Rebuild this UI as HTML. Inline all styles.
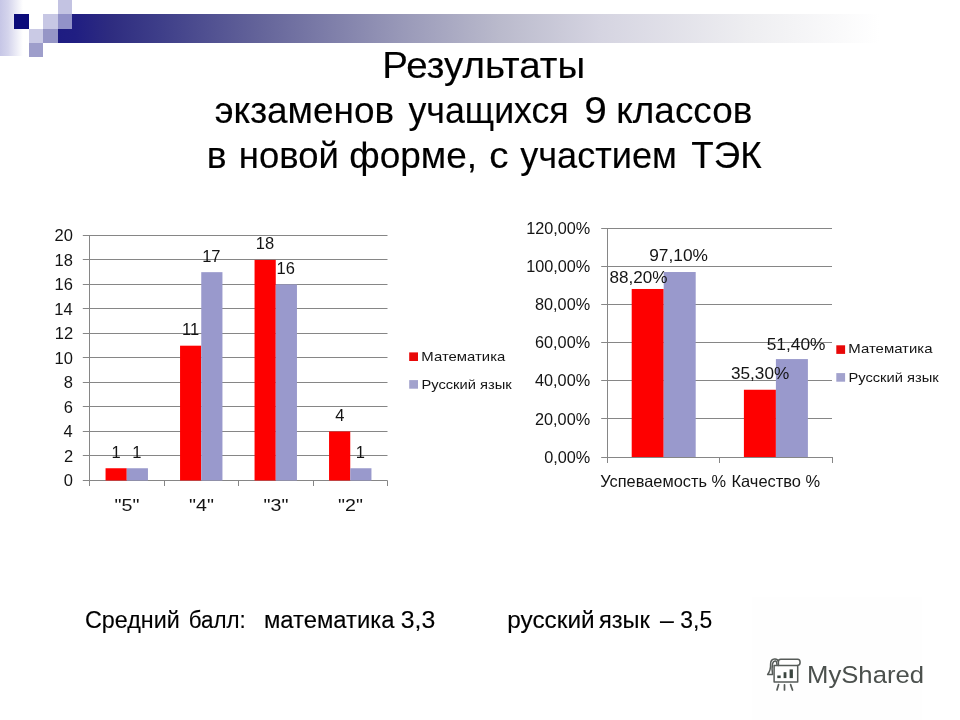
<!DOCTYPE html>
<html lang="ru">
<head>
<meta charset="utf-8">
<title>Результаты экзаменов учащихся 9 классов</title>
<style>
html,body{margin:0;padding:0;background:#fff;}
body{width:960px;height:720px;overflow:hidden;position:relative;font-family:"Liberation Sans",sans-serif;}
svg{position:absolute;left:0;top:0;display:block;}
text{font-family:"Liberation Sans",sans-serif;}
.t{fill:#000;font-size:37.33px;stroke:#000;stroke-width:0.15px;}
.c{fill:#141414;font-size:16.5px;}
.l{fill:#141414;font-size:13.4px;}
.g{stroke:#868686;stroke-width:1;fill:none;}
.b{fill:#000;font-size:23.5px;stroke:#000;stroke-width:0.12px;}
</style>
</head>
<body>
<svg width="960" height="720" viewBox="0 0 960 720">
<defs>
<linearGradient id="gb" x1="0" y1="0" x2="1" y2="0">
<stop offset="0" stop-color="#1e1c82"/>
<stop offset="0.019" stop-color="#201e82"/>
<stop offset="0.058" stop-color="#2e2c80"/>
<stop offset="0.113" stop-color="#3e3e89"/>
<stop offset="0.224" stop-color="#64649a"/>
<stop offset="0.379" stop-color="#9898b8"/>
<stop offset="0.49" stop-color="#babacc"/>
<stop offset="0.60" stop-color="#d5d4e1"/>
<stop offset="0.767" stop-color="#eeeef1"/>
<stop offset="0.911" stop-color="#ffffff"/>
</linearGradient>
<linearGradient id="gl" x1="0" y1="0" x2="1" y2="0">
<stop offset="0" stop-color="#c6c6e6"/>
<stop offset="0.35" stop-color="#d4d4ec"/>
<stop offset="1" stop-color="#ffffff"/>
</linearGradient>
</defs>
<rect width="960" height="720" fill="#ffffff"/>

<g id="deco">
<rect x="0" y="0" width="23" height="56" fill="url(#gl)"/>
<rect x="58" y="14" width="902" height="29" fill="url(#gb)"/>
<rect x="14" y="14" width="15" height="15" fill="#0b0b7a"/>
<rect x="43" y="14" width="15" height="15" fill="#c7c7e4"/>
<rect x="58" y="0" width="14" height="14" fill="#c3c3e2"/>
<rect x="58" y="14" width="14" height="15" fill="#9292c8"/>
<rect x="29" y="29" width="14" height="14" fill="#cacae5"/>
<rect x="43" y="29" width="15" height="14" fill="#9595c6"/>
<rect x="29" y="43" width="14" height="14" fill="#9e9ecb"/>
</g>
<text class="t" x="382.31" y="77.5" textLength="202.77" lengthAdjust="spacingAndGlyphs">Результаты</text>
<text class="t" x="214.76" y="122.5" textLength="179.28" lengthAdjust="spacingAndGlyphs">экзаменов</text>
<text class="t" x="408.51" y="122.5" textLength="160.19" lengthAdjust="spacingAndGlyphs">учащихся</text>
<text class="t" x="584.35" y="122.5" textLength="22.57" lengthAdjust="spacingAndGlyphs">9</text>
<text class="t" x="616.28" y="122.5" textLength="136.09" lengthAdjust="spacingAndGlyphs">классов</text>
<text class="t" x="206.75" y="167.5" textLength="19.84" lengthAdjust="spacingAndGlyphs">в</text>
<text class="t" x="238.81" y="167.5" textLength="100.04" lengthAdjust="spacingAndGlyphs">новой</text>
<text class="t" x="349.27" y="167.5" textLength="127.73" lengthAdjust="spacingAndGlyphs">форме,</text>
<text class="t" x="489.20" y="167.5" textLength="19.25" lengthAdjust="spacingAndGlyphs">с</text>
<text class="t" x="520.26" y="167.5" textLength="156.58" lengthAdjust="spacingAndGlyphs">участием</text>
<text class="t" x="691.26" y="167.5" textLength="70.37" lengthAdjust="spacingAndGlyphs">ТЭК</text>
<g id="chart1">
<line class="g" x1="82.8" y1="480.5" x2="387.5" y2="480.5"/>
<line class="g" x1="82.8" y1="455.5" x2="387.5" y2="455.5"/>
<line class="g" x1="82.8" y1="431.5" x2="387.5" y2="431.5"/>
<line class="g" x1="82.8" y1="406.5" x2="387.5" y2="406.5"/>
<line class="g" x1="82.8" y1="382.5" x2="387.5" y2="382.5"/>
<line class="g" x1="82.8" y1="357.5" x2="387.5" y2="357.5"/>
<line class="g" x1="82.8" y1="333.5" x2="387.5" y2="333.5"/>
<line class="g" x1="82.8" y1="308.5" x2="387.5" y2="308.5"/>
<line class="g" x1="82.8" y1="284.5" x2="387.5" y2="284.5"/>
<line class="g" x1="82.8" y1="259.5" x2="387.5" y2="259.5"/>
<line class="g" x1="82.8" y1="235.5" x2="387.5" y2="235.5"/>
<line class="g" x1="89.5" y1="235.40" x2="89.5" y2="486.00"/>
<line class="g" x1="164.5" y1="480.50" x2="164.5" y2="486.00"/>
<line class="g" x1="238.5" y1="480.50" x2="238.5" y2="486.00"/>
<line class="g" x1="313.5" y1="480.50" x2="313.5" y2="486.00"/>
<line class="g" x1="387.5" y1="480.50" x2="387.5" y2="486.00"/>
<rect x="105.55" y="468.25" width="21.20" height="12.26" fill="#fe0000"/>
<rect x="126.75" y="468.25" width="21.20" height="12.26" fill="#9999cc"/>
<rect x="180.05" y="345.69" width="21.20" height="134.81" fill="#fe0000"/>
<rect x="201.25" y="272.16" width="21.20" height="208.34" fill="#9999cc"/>
<rect x="254.55" y="259.91" width="21.20" height="220.59" fill="#fe0000"/>
<rect x="275.75" y="284.42" width="21.20" height="196.08" fill="#9999cc"/>
<rect x="329.05" y="431.48" width="21.20" height="49.02" fill="#fe0000"/>
<rect x="350.25" y="468.25" width="21.20" height="12.26" fill="#9999cc"/>
<text class="c" x="63.80" y="486.3" textLength="9.19" lengthAdjust="spacingAndGlyphs">0</text>
<text class="c" x="64.05" y="461.8" textLength="9.19" lengthAdjust="spacingAndGlyphs">2</text>
<text class="c" x="63.55" y="437.3" textLength="9.19" lengthAdjust="spacingAndGlyphs">4</text>
<text class="c" x="63.80" y="412.8" textLength="9.19" lengthAdjust="spacingAndGlyphs">6</text>
<text class="c" x="63.80" y="388.3" textLength="9.19" lengthAdjust="spacingAndGlyphs">8</text>
<text class="c" x="54.55" y="363.8" textLength="18.36" lengthAdjust="spacingAndGlyphs">10</text>
<text class="c" x="54.80" y="339.2" textLength="18.36" lengthAdjust="spacingAndGlyphs">12</text>
<text class="c" x="54.30" y="314.7" textLength="18.36" lengthAdjust="spacingAndGlyphs">14</text>
<text class="c" x="54.55" y="290.2" textLength="18.36" lengthAdjust="spacingAndGlyphs">16</text>
<text class="c" x="54.55" y="265.7" textLength="18.36" lengthAdjust="spacingAndGlyphs">18</text>
<text class="c" x="54.55" y="241.2" textLength="18.36" lengthAdjust="spacingAndGlyphs">20</text>
<text class="c" x="111.48" y="457.5" textLength="9.19" lengthAdjust="spacingAndGlyphs">1</text>
<text class="c" x="132.17" y="457.5" textLength="9.19" lengthAdjust="spacingAndGlyphs">1</text>
<text class="c" x="114.56" y="510.5" textLength="24.87" lengthAdjust="spacingAndGlyphs">&quot;5&quot;</text>
<text class="c" x="182.10" y="335.0" textLength="17.14" lengthAdjust="spacingAndGlyphs">11</text>
<text class="c" x="202.17" y="261.5" textLength="18.36" lengthAdjust="spacingAndGlyphs">17</text>
<text class="c" x="189.06" y="510.5" textLength="24.87" lengthAdjust="spacingAndGlyphs">&quot;4&quot;</text>
<text class="c" x="255.85" y="249.2" textLength="18.36" lengthAdjust="spacingAndGlyphs">18</text>
<text class="c" x="276.55" y="273.7" textLength="18.36" lengthAdjust="spacingAndGlyphs">16</text>
<text class="c" x="263.56" y="510.5" textLength="24.87" lengthAdjust="spacingAndGlyphs">&quot;3&quot;</text>
<text class="c" x="335.35" y="420.8" textLength="9.19" lengthAdjust="spacingAndGlyphs">4</text>
<text class="c" x="355.68" y="457.5" textLength="9.19" lengthAdjust="spacingAndGlyphs">1</text>
<text class="c" x="338.06" y="510.5" textLength="24.87" lengthAdjust="spacingAndGlyphs">&quot;2&quot;</text>
<rect x="409.2" y="352.4" width="8.8" height="8.6" fill="#e80808"/>
<text class="l" x="421.39" y="361.3" textLength="83.88" lengthAdjust="spacingAndGlyphs">Математика</text>
<rect x="409.2" y="380.1" width="8.8" height="8.6" fill="#a2a2cd"/>
<text class="l" x="421.40" y="388.8" textLength="90.33" lengthAdjust="spacingAndGlyphs">Русский язык</text>
</g>
<g id="chart2">
<line class="g" x1="601.2" y1="457.5" x2="832.0" y2="457.5"/>
<line class="g" x1="601.2" y1="418.5" x2="832.0" y2="418.5"/>
<line class="g" x1="601.2" y1="380.5" x2="832.0" y2="380.5"/>
<line class="g" x1="601.2" y1="342.5" x2="832.0" y2="342.5"/>
<line class="g" x1="601.2" y1="304.5" x2="832.0" y2="304.5"/>
<line class="g" x1="601.2" y1="266.5" x2="832.0" y2="266.5"/>
<line class="g" x1="601.2" y1="228.5" x2="832.0" y2="228.5"/>
<line class="g" x1="607.5" y1="228.40" x2="607.5" y2="463.00"/>
<line class="g" x1="719.5" y1="457.00" x2="719.5" y2="463.00"/>
<line class="g" x1="832.5" y1="457.00" x2="832.5" y2="463.00"/>
<rect x="631.70" y="288.98" width="32.00" height="168.02" fill="#fe0000"/>
<rect x="663.70" y="272.02" width="32.00" height="184.98" fill="#9999cc"/>
<rect x="743.90" y="389.75" width="32.00" height="67.25" fill="#fe0000"/>
<rect x="775.90" y="359.08" width="32.00" height="97.92" fill="#9999cc"/>
<text class="c" x="544.14" y="462.6" textLength="46.09" lengthAdjust="spacingAndGlyphs">0,00%</text>
<text class="c" x="535.03" y="424.5" textLength="55.13" lengthAdjust="spacingAndGlyphs">20,00%</text>
<text class="c" x="535.03" y="386.4" textLength="55.13" lengthAdjust="spacingAndGlyphs">40,00%</text>
<text class="c" x="535.03" y="348.3" textLength="55.13" lengthAdjust="spacingAndGlyphs">60,00%</text>
<text class="c" x="535.03" y="310.2" textLength="55.13" lengthAdjust="spacingAndGlyphs">80,00%</text>
<text class="c" x="526.17" y="272.1" textLength="64.16" lengthAdjust="spacingAndGlyphs">100,00%</text>
<text class="c" x="526.17" y="234.0" textLength="64.16" lengthAdjust="spacingAndGlyphs">120,00%</text>
<text class="c" x="609.52" y="282.5" textLength="57.96" lengthAdjust="spacingAndGlyphs">88,20%</text>
<text class="c" x="649.21" y="261.3" textLength="58.78" lengthAdjust="spacingAndGlyphs">97,10%</text>
<text class="c" x="730.97" y="378.8" textLength="58.27" lengthAdjust="spacingAndGlyphs">35,30%</text>
<text class="c" x="766.71" y="350" textLength="58.78" lengthAdjust="spacingAndGlyphs">51,40%</text>
<text class="c" x="600.30" y="486.6" textLength="125.70" lengthAdjust="spacingAndGlyphs">Успеваемость %</text>
<text class="c" x="731.45" y="486.6" textLength="88.78" lengthAdjust="spacingAndGlyphs">Качество %</text>
<rect x="836.3" y="345.3" width="8.8" height="8.6" fill="#e80808"/>
<text class="l" x="848.39" y="353.4" textLength="84.08" lengthAdjust="spacingAndGlyphs">Математика</text>
<rect x="836.3" y="373.1" width="8.8" height="8.6" fill="#a2a2cd"/>
<text class="l" x="848.40" y="381.7" textLength="90.33" lengthAdjust="spacingAndGlyphs">Русский язык</text>
</g>
<text class="b" x="85.01" y="627.5" textLength="94.77" lengthAdjust="spacingAndGlyphs">Средний</text>
<text class="b" x="188.81" y="627.5" textLength="57.04" lengthAdjust="spacingAndGlyphs">балл:</text>
<text class="b" x="263.98" y="627.5" textLength="130.52" lengthAdjust="spacingAndGlyphs">математика</text>
<text class="b" x="400.69" y="627.5" textLength="34.53" lengthAdjust="spacingAndGlyphs">3,3</text>
<text class="b" x="507.19" y="627.5" textLength="87.44" lengthAdjust="spacingAndGlyphs">русский</text>
<text class="b" x="599.00" y="627.5" textLength="50.92" lengthAdjust="spacingAndGlyphs">язык</text>
<text class="b" x="660.00" y="627.5" textLength="13.83" lengthAdjust="spacingAndGlyphs">–</text>
<text class="b" x="680.27" y="627.5" textLength="31.88" lengthAdjust="spacingAndGlyphs">3,5</text>
<g id="wm">
<rect x="752" y="597" width="170" height="123" fill="#fefefe"/>
<g fill="none" stroke="#565b58" stroke-width="1.5" stroke-linecap="round" stroke-linejoin="round">
<rect x="774.1" y="665.6" width="23.6" height="16.4"/>
<path d="M778.4 665.4 V661.6 Q778.4 659.2 780.8 659.2 H797.6 Q800.1 659.2 800.1 662.3 Q800.1 665.4 797.6 665.4"/>
<path d="M778.4 661.4 Q777.6 658.9 774.6 659.1 Q770.6 659.4 770.6 664 Q770.8 670.5 767.6 674.4 H772.6 Q771.6 668 772.6 663.6 Q773.4 660.8 775.6 661 Q776.8 661.4 776.9 664.6"/>
<path stroke-width="1.7" d="M778.6 684.6 L777 690 M784.5 684.8 V690 M790.6 684.6 L792.5 690"/>
</g>
<rect x="777.3" y="675.5" width="3.4" height="2.6" fill="#3b4640"/>
<rect x="783.6" y="672.2" width="2.8" height="5.9" fill="#3b4640"/>
<rect x="789.6" y="669.4" width="3.3" height="8.7" fill="#3b4640"/>
<text x="807.00" y="682.8" textLength="117.05" lengthAdjust="spacingAndGlyphs" font-size="24.5" fill="#4b504d">MyShared</text>
</g>

</svg>
</body>
</html>
